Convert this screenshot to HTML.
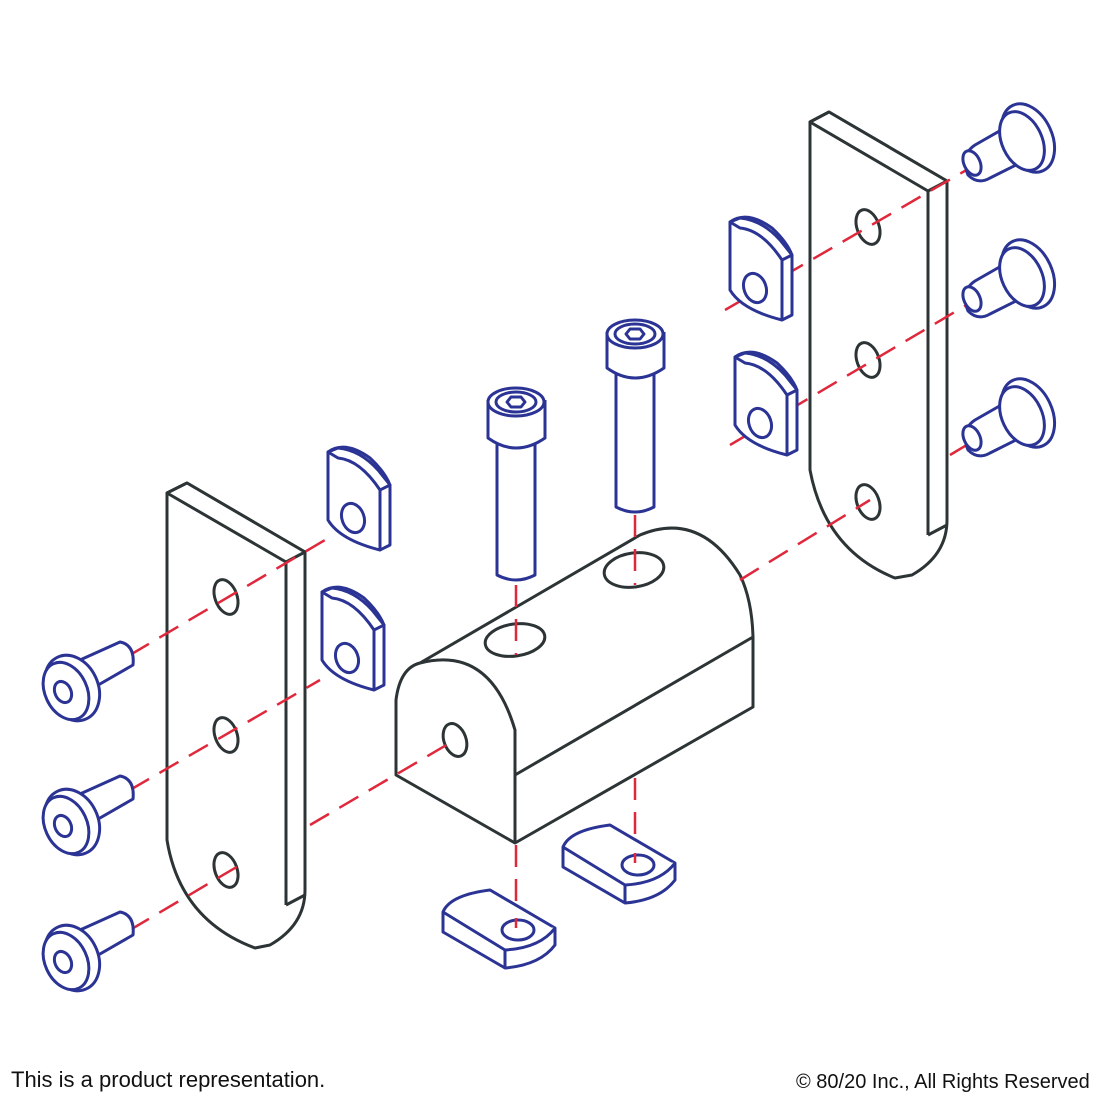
<!DOCTYPE html>
<html><head><meta charset="utf-8"><style>
html,body{margin:0;padding:0;background:#fff;width:1100px;height:1100px;overflow:hidden}
svg{position:absolute;left:0;top:0}
.t{position:absolute;font-family:"Liberation Sans",sans-serif;color:#111;white-space:nowrap}
</style></head><body>
<svg width="1100" height="1100" viewBox="0 0 1100 1100">
<g fill="#fff" stroke="#2d3436" stroke-width="3" stroke-linejoin="round">
<path d="M167,493 L187,483 L305,552 L305,890 Q305,925 270,945 L255,948 Q180,920 167,840 Z"/>
<path d="M167,493 L187,483 L305,552 L286,562 Z"/>
<path d="M286,562 L286,905"/>
<path d="M286,905 L305,895"/>
<ellipse cx="226" cy="597" rx="11" ry="18" transform="rotate(-20 226 597)"/>
<ellipse cx="226" cy="735" rx="11" ry="18" transform="rotate(-20 226 735)"/>
<ellipse cx="226" cy="870" rx="11" ry="18" transform="rotate(-20 226 870)"/>
<path d="M810,122 L829,112 L947,181 L947,520 Q947,555 912,575 L895,578 Q825,550 810,470 Z"/>
<path d="M810,122 L829,112 L947,181 L928,191 Z"/>
<path d="M928,191 L928,535"/>
<path d="M928,535 L947,525"/>
<ellipse cx="868" cy="227" rx="11" ry="18" transform="rotate(-20 868 227)"/>
<ellipse cx="868" cy="360" rx="11" ry="18" transform="rotate(-20 868 360)"/>
<ellipse cx="868" cy="502" rx="11" ry="18" transform="rotate(-20 868 502)"/>
<path d="M396,775 L396,700 Q400,668 420,663 L640,535 Q700,510 740,575 Q752,600 753,637 L753,707 L515,843 Z"/>
<path d="M420,663 Q490,645 515,730 L515,843"/>
<path d="M515,775 L753,637"/>
<ellipse cx="455" cy="740" rx="11" ry="17" transform="rotate(-20 455 740)"/>
<ellipse cx="515" cy="640" rx="30" ry="16" transform="rotate(-8 515 640)"/>
<ellipse cx="634" cy="570" rx="30" ry="17" transform="rotate(-8 634 570)"/>
</g>
<g fill="none" stroke="#e0283c" stroke-width="2.5" stroke-dasharray="22,12">
<line x1="130" y1="655" x2="325" y2="540"/>
<line x1="130" y1="790" x2="320" y2="680"/>
<line x1="130" y1="930" x2="240" y2="865"/>
<line x1="310" y1="825" x2="455" y2="740"/>
<line x1="740" y1="580" x2="870" y2="500"/>
<line x1="725" y1="310" x2="975" y2="165"/>
<line x1="730" y1="445" x2="975" y2="300"/>
<line x1="950" y1="455" x2="975" y2="440"/>
<line x1="516" y1="585" x2="516" y2="655"/>
<line x1="635" y1="515" x2="635" y2="585"/>
<line x1="516" y1="845" x2="516" y2="940"/>
<line x1="635" y1="778" x2="635" y2="870"/>
</g>
<g fill="#fff" stroke="#2b3494" stroke-width="3" stroke-linejoin="round">
<path d="M497,440 L497,575 Q516,585 535,575 L535,440"/>
<path d="M488,400 L488,438 Q516,458 545,438 L545,400"/>
<ellipse cx="516" cy="402" rx="28" ry="14"/>
<ellipse cx="516" cy="402" rx="20" ry="10"/>
<path d="M507,402 L511,397 L521,397 L525,402 L521,407 L511,407 Z"/>
<path d="M616,370 L616,507 Q635,517 654,507 L654,370"/>
<path d="M607,332 L607,368 Q635,388 664,368 L664,332"/>
<ellipse cx="635" cy="334" rx="28" ry="14"/>
<ellipse cx="635" cy="334" rx="20" ry="10"/>
<path d="M626,334 L630,329 L640,329 L644,334 L640,339 L630,339 Z"/>
<g id="ls">
<path d="M80,660 L120,642 Q135,645 133,665 L93,688"/>
<ellipse cx="72" cy="688" rx="26" ry="34" transform="rotate(-25 72 688)"/>
<ellipse cx="66" cy="691" rx="21" ry="30" transform="rotate(-25 66 691)"/>
<ellipse cx="63" cy="692" rx="8" ry="11" transform="rotate(-25 63 692)"/>
</g>
<use href="#ls" transform="translate(0,134)"/>
<use href="#ls" transform="translate(0,270)"/>
<g id="rs">
<path d="M1010,125 L975,145 Q960,155 968,175 Q978,185 990,178 L1030,158"/>
<ellipse cx="1028" cy="138" rx="24" ry="36" transform="rotate(-25 1028 138)"/>
<ellipse cx="1022" cy="141" rx="20" ry="31" transform="rotate(-25 1022 141)"/>
<ellipse cx="972" cy="163" rx="8" ry="13" transform="rotate(-25 972 163)"/>
</g>
<use href="#rs" transform="translate(0,136)"/>
<use href="#rs" transform="translate(0,275)"/>
<g id="tn">
<path d="M328,452 Q345,440 370,458 Q385,472 390,485 L390,545 L380,550 Q340,540 328,520 Z"/>
<path d="M328,452 L338,448 Q360,450 378,470 L390,485 L380,490 Q360,460 338,458 Z"/>
<path d="M380,490 L380,550"/>
<ellipse cx="353" cy="518" rx="11" ry="15" transform="rotate(-20 353 518)"/>
</g>
<use href="#tn" transform="translate(-6,140)"/>
<use href="#tn" transform="translate(402,-230)"/>
<use href="#tn" transform="translate(407,-95)"/>
<g id="bn">
<path d="M443,912 Q450,895 490,890 L555,928 L555,945 Q540,965 505,968 L443,932 Z"/>
<path d="M443,912 L505,950 Q540,948 555,928"/>
<path d="M505,950 L505,968"/>
<ellipse cx="518" cy="930" rx="16" ry="10"/>
</g>
<use href="#bn" transform="translate(120,-65)"/>
</g>
<g stroke="#e0283c" stroke-width="2.5" stroke-dasharray="10,12">
<line x1="516" y1="918" x2="516" y2="940"/>
<line x1="635" y1="853" x2="635" y2="870"/>
</g>
</svg>
<div class="t" style="left:11px;top:1067px;font-size:22px">This is a product representation.</div>
<div class="t" style="left:796px;top:1071px;font-size:20px">© 80/20 Inc., All Rights Reserved</div>
</body></html>
